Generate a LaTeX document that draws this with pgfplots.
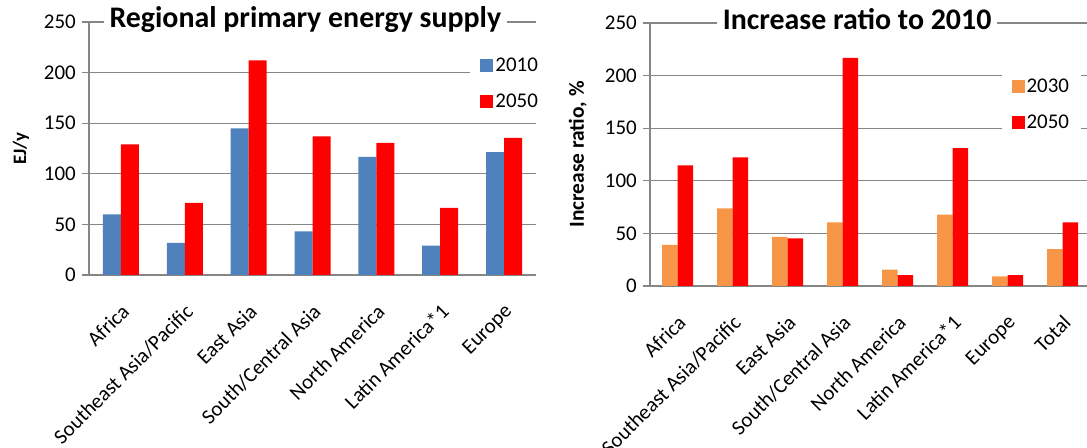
\documentclass[border=0pt]{standalone}
\usepackage{pgfplots}
\pgfplotsset{compat=1.18}
\usepackage{fontspec}
\setmainfont{Carlito}

\definecolor{c2010}{RGB}{79,129,189}
\definecolor{c2050}{RGB}{255,0,0}
\definecolor{c2030}{RGB}{247,150,70}
\definecolor{gridgray}{RGB}{134,134,134}

\pgfplotsset{
  panel/.style={
    scale only axis,
    anchor=south west,
    axis lines*=left,
    axis line style={gridgray, line width=1.2bp},
    ymin=0, ymax=250, ytick={0,50,...,250},
    ymajorgrids, grid style={gridgray, line width=1.2bp},
    ytick style={gridgray, line width=1.2bp},
    tick align=outside, major tick length=7bp,
    xtick style={draw=none},
    xmin=-0.5,
    ybar=0pt,
    /pgf/number format/assume math mode=true,
    yticklabel style={font=\fontsize{21}{23}\selectfont, inner sep=0pt, xshift=-6bp},
    xticklabel style={font=\fontsize{21}{23}\selectfont, rotate=45, anchor=north east,
      inner sep=0pt, xshift=-15bp, yshift=-14bp},
    ylabel style={anchor=center},
    title style={font=\bfseries\fontsize{30}{34}\selectfont, fill=white,
      inner xsep=6bp, inner ysep=2bp, anchor=base},
    legend style={draw=none, fill=white, font=\fontsize{21}{23}\selectfont,
      anchor=north west, row sep=17bp, inner xsep=10bp, inner ysep=8bp},
    legend image code/.code={\fill[##1] (0bp,-6.5bp) rectangle (13bp,6.5bp);},
    legend cell align=left,
  },
}

\begin{document}
\begin{tikzpicture}
\useasboundingbox (0,0) rectangle (1087bp,448bp);

% Regional primary energy supply, EJ/y
\begin{axis}[panel,
  at={(89bp,173bp)}, width=447bp, height=253bp,
  xmax=6.5, bar width=18bp,
  xtick={0,...,6},
  xticklabels={Africa, Southeast Asia/Pacific, East Asia, South/Central Asia,
    North America, Latin America*1, Europe},
  ylabel={EJ/y},
  ylabel style={at={(axis description cs:-0.152,0.5)},
    font=\bfseries\fontsize{19}{21}\selectfont},
  title={Regional primary energy supply},
  title style={at={(axis description cs:0.484,1)}, yshift=-11bp},
  legend style={at={(axis description cs:0.853,0.90)}},
]
\addplot[fill=c2010, draw=none] coordinates
  {(0,60) (1,31.7) (2,144.8) (3,43.2) (4,116.8) (5,29) (6,121.4)};
\addplot[fill=c2050, draw=none] coordinates
  {(0,129) (1,71.2) (2,212) (3,136.9) (4,130.6) (5,66.3) (6,135.6)};
\legend{2010, 2050}
\end{axis}

% Increase ratio relative to 2010, %
\begin{axis}[panel,
  at={(650bp,162bp)}, width=437bp, height=263bp,
  xmax=7.445, bar width=15.5bp,
  xtick={0,...,7},
  xticklabels={Africa, Southeast Asia/Pacific, East Asia, South/Central Asia,
    North America, Latin America*1, Europe, Total},
  ylabel={Increase ratio, \%},
  ylabel style={at={(axis description cs:-0.165,0.5)},
    font=\bfseries\fontsize{21.5}{23}\selectfont},
  title={Increase ratio to 2010},
  title style={at={(axis description cs:0.474,1)}, yshift=-12bp},
  legend style={at={(axis description cs:0.804,0.825)}},
]
\addplot[fill=c2030, draw=none] coordinates
  {(0,39) (1,73.7) (2,46.8) (3,60.4) (4,15.5) (5,67.9) (6,9.2) (7,35.1)};
\addplot[fill=c2050, draw=none] coordinates
  {(0,114.6) (1,122.2) (2,45.3) (3,216.8) (4,10.4) (5,131) (6,10.4) (7,60.4)};
\legend{2030, 2050}
\end{axis}
\end{tikzpicture}
\end{document}
